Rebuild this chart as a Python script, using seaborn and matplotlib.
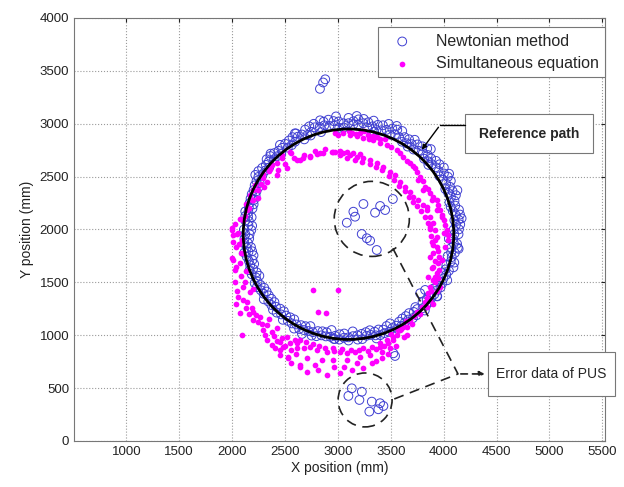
import numpy as np
import pandas as pd
import matplotlib
matplotlib.use("Agg")
import matplotlib.pyplot as plt
from matplotlib.patches import Circle, Rectangle
import seaborn as sns

# Newtonian method estimates (mm)
newton_x = [4140, 4094, 4156, 4101, 4115, 4144, 4066, 4102, 4115, 4042, 4060, 4067, 3992, 4002, 4001, 3925,
            3927, 3852, 3849, 3844, 3762, 3752, 3726, 3648, 3630, 3608, 3540, 3514, 3480, 3410, 3377, 3338,
            3277, 3239, 3195, 3146, 3100, 3054, 3012, 2959, 2919, 2865, 2841, 2781, 2748, 2690, 2682, 2620,
            2595, 2536, 2526, 2473, 2464, 2397, 2393, 2348, 2349, 2283, 2289, 2248, 2260, 2213, 2230, 2185,
            2207, 2165, 2192, 2153, 2184, 2124, 2154, 2181, 2125, 2161, 2114, 2178, 2154, 2202, 2158, 2208,
            2198, 2185, 2257, 2240, 2234, 2303, 2297, 2299, 2372, 2370, 2386, 2454, 2463, 2479, 2549, 2563,
            2585, 2652, 2677, 2740, 2763, 2796, 2854, 2886, 2940, 2973, 3013, 3059, 3100, 3140, 3187, 3224,
            3270, 3301, 3356, 3384, 3428, 3483, 3493, 3550, 3600, 3608, 3665, 3672, 3743, 3749, 3800, 3800,
            3866, 3862, 3911, 3905, 3970, 3956, 3997, 3987, 4049, 4025, 4066, 4037, 4105, 4072, 4126, 4089,
            4129, 4051, 3855, 3878, 3659, 3556, 3342, 3178, 2982, 2831, 2742, 2593, 2363, 4169, 4133, 3936,
            3364, 2961, 2660, 2115, 2125, 3777, 3824, 3524, 3540,
            4100, 4116, 4154, 4109, 4068, 4015, 4040, 3952, 3889, 3814, 3798, 3697, 3605, 3561, 3459, 3364,
            3287, 3190, 3100, 3007, 2909, 2828, 2729, 2660, 2570, 2501, 2438, 2361, 2319, 2248, 2230, 2203,
            2174, 2158, 2150, 2189, 2165, 2149, 2189, 2192, 2165, 2225, 2269, 2326, 2342, 2414, 2489, 2526,
            2607, 2694, 2751, 2844, 2929, 3017, 3100, 3184, 3264, 3347, 3440, 3514, 3578, 3642, 3717, 3821,
            3839, 3939, 3940, 4033, 4016, 4100, 4070, 4096,
            4144, 4141, 4086, 4054, 4084, 4022, 3960, 3960, 3881, 3803, 3715, 3672, 3578, 3491, 3425, 3326,
            3244, 3147, 3056, 2965, 2872, 2771, 2712, 2604, 2563, 2452, 2424, 2326, 2315, 2219, 2248, 2222,
            2203, 2124, 2158, 2111, 2116, 2138, 2138, 2170, 2232, 2213, 2270, 2347, 2400, 2421, 2510, 2587,
            2634, 2721, 2811, 2894, 2969, 3057, 3142, 3231, 3311, 3401, 3460, 3566, 3632, 3709, 3732, 3834,
            3885, 3935, 3987, 4024, 4092, 4076, 4141, 4049,
            2830, 2860, 2880,
            3241, 3146, 3162, 3084, 3351, 3399, 3446, 3519, 3225, 3273, 3304, 3367,
            3131, 3226, 3099, 3203, 3320, 3398, 3382, 3297, 3430]
newton_y = [1955, 1999, 2047, 2087, 2134, 2186, 2214, 2271, 2324, 2346, 2403, 2459, 2470, 2530, 2586, 2588,
            2649, 2645, 2704, 2766, 2744, 2804, 2848, 2815, 2873, 2931, 2897, 2953, 2998, 2938, 2989, 3029,
            2960, 3005, 3041, 2994, 3055, 3004, 2961, 3025, 2979, 3019, 2921, 2966, 2923, 2944, 2852, 2877,
            2830, 2841, 2774, 2772, 2713, 2722, 2662, 2644, 2585, 2582, 2523, 2497, 2440, 2417, 2361, 2334,
            2280, 2250, 2198, 2165, 2116, 2084, 2038, 1995, 1955, 1914, 1869, 1833, 1788, 1756, 1703, 1674,
            1627, 1576, 1562, 1507, 1455, 1448, 1392, 1340, 1344, 1286, 1241, 1251, 1197, 1146, 1169, 1112,
            1063, 1095, 1049, 1086, 1029, 991, 1037, 989, 1049, 994, 959, 1016, 980, 1036, 959, 1013,
            995, 1047, 999, 1054, 1053, 1031, 1112, 1090, 1089, 1158, 1148, 1209, 1189, 1247, 1255, 1313,
            1312, 1371, 1387, 1442, 1452, 1509, 1537, 1587, 1610, 1663, 1696, 1747, 1778, 1827, 1865, 1912,
            2371, 2527, 2611, 2760, 2784, 2979, 2925, 3073, 3069, 3032, 2889, 2909, 2717, 2105, 1828, 1370,
            970, 965, 1012, 1781, 2127, 1397, 1428, 829, 804,
            1955, 2044, 2141, 2226, 2307, 2382, 2498, 2552, 2617, 2669, 2786, 2807, 2830, 2943, 2942, 2940,
            3014, 2991, 3005, 3021, 3038, 2969, 2975, 2898, 2873, 2811, 2744, 2694, 2611, 2552, 2458, 2373,
            2292, 2207, 2123, 2035, 1955, 1872, 1794, 1712, 1615, 1547, 1475, 1413, 1319, 1269, 1227, 1136,
            1102, 1085, 997, 999, 985, 1009, 950, 999, 1029, 1033, 1020, 1067, 1128, 1181, 1220, 1234,
            1335, 1367, 1470, 1520, 1622, 1687, 1784, 1868,
            2001, 2093, 2173, 2256, 2363, 2435, 2503, 2616, 2672, 2721, 2756, 2853, 2873, 2897, 2985, 2975,
            3045, 3024, 2964, 2981, 2985, 2999, 2893, 2908, 2798, 2800, 2692, 2664, 2558, 2516, 2398, 2318,
            2238, 2171, 2079, 1999, 1912, 1828, 1742, 1662, 1595, 1493, 1426, 1376, 1313, 1214, 1186, 1150,
            1059, 1040, 1039, 1028, 964, 976, 991, 964, 1003, 1001, 1087, 1059, 1120, 1162, 1266, 1283,
            1352, 1423, 1493, 1572, 1642, 1739, 1817, 1914,
            3330, 3390, 3420,
            2241, 2168, 2121, 2064, 2159, 2222, 2184, 2288, 1957, 1917, 1894, 1806,
            498, 466, 426, 388, 372, 357, 300, 278, 331]

# Simultaneous equation estimates (mm)
simul_x = [2973, 3052, 3115, 3178, 3241, 3304, 3367, 3430, 3493, 3540, 3588, 3635, 3682, 3714, 3761, 3808,
           3840, 3872, 3903, 3919, 3935,
           3115, 3241, 3335, 3461, 3556, 3619, 3682, 3729, 3777, 3824, 3872, 3935, 3966, 3998, 4029, 4045,
           2973, 3052, 3131, 3209, 3288, 3367, 3446,
           2610, 2673, 2736, 2799, 2862, 2942, 3020, 3083, 3146, 3209,
           2106, 2138, 2185, 2248, 2327, 2421, 2516, 2642, 2737, 2831, 2957, 2374, 2469, 2547,
           2473, 2361, 2273, 2198, 2125, 2289, 2428, 2561, 2194, 2158,
           1996, 1996, 2011, 2091, 1996, 2037, 2027, 2011, 2027, 2064, 2076, 2132, 2121, 2199, 2105, 2050,
           2059, 2075, 2091, 2185, 2200, 2248, 2295, 2327, 2374, 2453, 2531, 2516, 2642, 2705,
           2106, 2169, 2138, 2200, 2263, 2327, 2374, 2421, 2469, 2547, 2595, 2610, 2453, 2531, 2405,
           2642, 2812, 2895, 3020, 3131, 3241, 3320, 3415,
           2737, 2799, 2895, 2957, 3020, 3083, 3162, 3241, 3320, 3398, 3461, 3524, 3588, 3651, 2642, 2610,
           2705, 2846, 2957, 3083, 3209, 3304, 3415, 3493,
           3872, 3903, 3856, 3872, 3840, 3793, 3745, 3682, 3619, 3572, 3651, 3524, 3477, 3398, 3935, 3982,
           3935, 3919,
           3872, 3919, 3903, 3950, 3919, 3966, 3872, 3840, 4013, 3998, 3982, 3935, 3887, 3840, 3808, 3761,
           3020, 3090, 3160, 3230, 3300, 3360, 3420, 3480, 3530, 3580, 3630, 3670, 3710, 3750, 3790, 3820,
           3850, 3870, 3880, 3890,
           3180, 3290, 3400, 3500, 3590, 3650, 3710, 3750, 3800, 3850, 3900, 3950, 3980, 4010, 4040,
           3900, 3950, 3960, 3920, 3890, 3960, 3900, 3950, 3880, 3940, 3850, 3900, 3820, 3780, 3720, 3700,
           3640, 3600, 3560, 3500,
           3440, 3360, 3280, 3200, 3120, 3040, 2960, 2880, 2820, 2760, 2700, 2680, 2560, 2500, 2450, 2400,
           3360, 3180, 3060, 2960, 2780, 2560, 2600, 3470, 3550, 3620,
           2080, 2040, 2010, 2060, 2030, 2070, 2080, 2050, 2100, 2130, 2160, 2230, 2280, 2310, 2350, 2420,
           2480, 2040,
           2130, 2170, 2220, 2290, 2350, 2430, 2500, 2580, 2680, 2780, 2880, 2240, 2300,
           3000, 3100, 3170, 3250, 3330, 3400,
           2768, 3005, 2815, 2888]
simul_y = [2736, 2721, 2705, 2688, 2673, 2657, 2626, 2594, 2547, 2515, 2452, 2405, 2357, 2310, 2279, 2232,
           2184, 2121, 2059, 1995, 1932,
           2894, 2862, 2846, 2799, 2752, 2688, 2626, 2579, 2500, 2405, 2342, 2279, 2184, 2090, 1995, 1901,
           2910, 2915, 2915, 2910, 2894, 2872, 2853,
           2657, 2673, 2695, 2714, 2726, 2736, 2745, 2736, 2726, 2714,
           2090, 2184, 2279, 2374, 2452, 2515, 2578, 2657, 2688, 2720, 2736, 2610, 2673, 2736,
           2702, 2575, 2433, 2283, 2127, 2523, 2627, 2725, 2378, 2207,
           2011, 1995, 1948, 1901, 1728, 1648, 1506, 1712, 1617, 1864, 1681, 1603, 1499, 1435, 1780, 1955,
           1365, 1208, 1003, 1255, 1144, 1128, 1050, 955, 908, 861, 797, 987, 703, 655,
           1460, 1412, 1317, 1223, 1176, 1097, 1034, 1066, 971, 924, 955, 877, 813, 782, 877,
           719, 672, 624, 640, 672, 688, 735, 782,
           892, 861, 845, 877, 845, 829, 845, 877, 892, 924, 955, 987, 1050, 1081, 955, 924,
           782, 766, 766, 766, 797, 813, 845, 877,
           1743, 1648, 1554, 1459, 1349, 1270, 1223, 1144, 1081, 1050, 1003, 955, 924, 892, 1837, 1711,
           1585, 1506,
           2027, 1901, 1775, 1680, 1554, 1459, 1333, 1270, 1837, 1964, 2121, 2184, 2279, 2216, 2374, 2468,
           2700, 2680, 2660, 2640, 2620, 2590, 2560, 2510, 2470, 2410, 2360, 2310, 2260, 2220, 2170, 2120,
           2060, 2000, 1940, 1880,
           2880, 2860, 2820, 2780, 2720, 2650, 2600, 2540, 2460, 2380, 2310, 2230, 2140, 2040, 1950,
           1850, 1800, 1740, 1700, 1640, 1620, 1520, 1540, 1420, 1420, 1400, 1300, 1310, 1200, 1180, 1110,
           1130, 1060, 1000, 1010,
           900, 870, 850, 860, 860, 870, 850, 880, 900, 920, 940, 880, 860, 900, 940, 990,
           760, 740, 700, 700, 720, 740, 820, 820, 900, 980,
           1780, 1830, 1880, 1970, 2050, 2100, 1560, 1420, 1330, 1260, 1200, 1190, 1110, 1000, 1150, 950,
           890, 1300,
           2240, 2330, 2420, 2490, 2550, 2560, 2620, 2680, 2700, 2740, 2760, 2300, 2400,
           2890, 2930, 2900, 2930, 2880, 2860,
           1428, 1428, 1223, 1208]

# reference path (circle) and highlighted error regions
ref_center = (3100, 1955)
ref_radius = 995
err_centers = [(3320, 2100), (3257, 388)]
err_radii = [355, 255]

newton = pd.DataFrame({"x": newton_x, "y": newton_y})
simul = pd.DataFrame({"x": simul_x, "y": simul_y})

sns.set_style("white")
plt.rcParams["font.family"] = ["Liberation Sans", "DejaVu Sans"]

fig = plt.figure(figsize=(6.24, 4.87), dpi=100)
ax = fig.add_axes([0.1186, 0.0945, 0.851, 0.8686])

sns.scatterplot(data=newton, x="x", y="y", ax=ax, s=40, marker="o", facecolor="none",
                edgecolor="#3f3fd2", linewidth=0.7, label="Newtonian method", zorder=3)
sns.scatterplot(data=simul, x="x", y="y", ax=ax, s=17, marker="o", color="#ff00ff",
                edgecolor="#ff00ff", linewidth=0, label="Simultaneous equation", zorder=4)

ax.add_patch(Circle(ref_center, ref_radius, fill=False, ec="black", lw=2.0, zorder=5))
for c, r in zip(err_centers, err_radii):
    ax.add_patch(Circle(c, r, fill=False, ec="#222222", lw=1.2, ls=(0, (6, 4)), zorder=6))

ax.set_xlim(505, 5525)
ax.set_ylim(0, 4000)
ax.set_xticks(np.arange(1000, 5501, 500))
ax.set_yticks(np.arange(0, 4001, 500))
ax.grid(True, ls=":", color="#9a9a9a", lw=0.8)
ax.tick_params(direction="in", top=True, right=True, labelsize=9.5, colors="#222222", length=3)
for sp in ax.spines.values():
    sp.set_color("#777777")
    sp.set_linewidth(0.8)
ax.set_xlabel("X position (mm)", fontsize=10, color="#222222", labelpad=2)
ax.set_ylabel("Y position (mm)", fontsize=10, color="#222222", labelpad=4)

leg = ax.legend(loc="upper right", bbox_to_anchor=(1.0, 0.978), borderaxespad=0, fontsize=11.5,
                frameon=True, fancybox=False, edgecolor="#777777", framealpha=1,
                handlelength=2.2, handletextpad=1.0, borderpad=0.4, labelspacing=0.45)
leg.get_frame().set_linewidth(0.8)

# "Reference path" callout
ax.add_patch(Rectangle((4200, 2720), 1210, 370, fc="white", ec="#777777", lw=0.8, zorder=7))
ax.text(4805, 2905, "Reference path", ha="center", va="center", fontsize=10, fontweight="bold", zorder=8)
ax.plot([4200, 3966], [2988, 2988], color="black", lw=1.0, zorder=7)
ax.annotate("", xy=(3777, 2733), xytext=(3966, 2988),
            arrowprops=dict(arrowstyle="-|>", color="black", lw=1.0, mutation_scale=7), zorder=7)

# "Error data of PUS" callout
ax.add_patch(Rectangle((4420, 426), 1200, 416, fc="white", ec="#777777", lw=0.8, zorder=7,
                       clip_on=False))
ax.text(5020, 634, "Error data of PUS", ha="center", va="center", fontsize=10, zorder=8)
ax.plot([3519, 4135, 3509], [1822, 634, 388], color="#222222", lw=1.2, ls=(0, (6, 4)), zorder=7)
ax.annotate("", xy=(4415, 634), xytext=(4135, 634),
            arrowprops=dict(arrowstyle="-|>", color="#222222", lw=1.2, ls=(0, (4, 3)),
                            mutation_scale=8), zorder=7)

fig.savefig("out.png", dpi=100)
